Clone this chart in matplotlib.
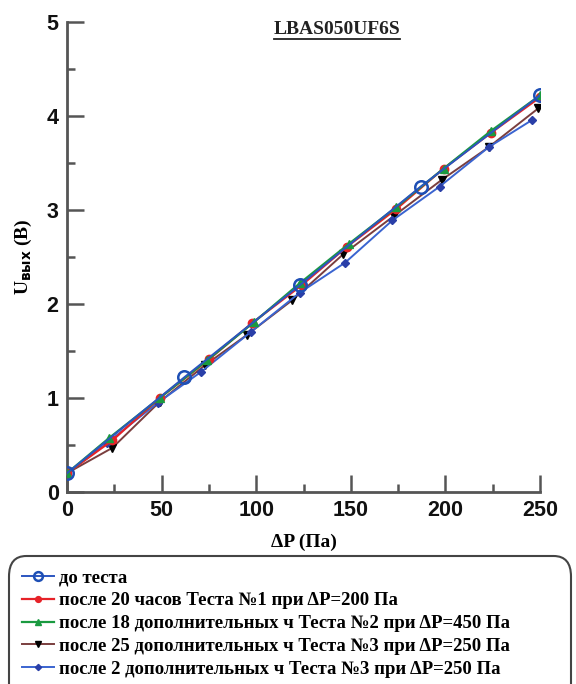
import matplotlib
matplotlib.use("Agg")
import matplotlib.pyplot as plt
from matplotlib.patches import FancyBboxPatch
from matplotlib.lines import Line2D
from matplotlib.ticker import MultipleLocator

# Data
x_before = [0, 62, 123, 187, 250]
y_before = [0.20, 1.22, 2.20, 3.25, 4.22]

x_t1 = [0, 24, 49, 75, 98, 124, 148, 174, 199, 224, 250]
y_t1 = [0.20, 0.55, 1.00, 1.41, 1.80, 2.20, 2.61, 3.01, 3.44, 3.82, 4.20]

x_t2 = [0, 22, 49, 74, 99, 123, 149, 174, 199, 224, 250]
y_t2 = [0.20, 0.57, 1.00, 1.40, 1.81, 2.22, 2.64, 3.03, 3.44, 3.84, 4.22]

x_t3 = [0, 24, 49, 73, 95, 119, 146, 173, 198, 223, 249]
y_t3 = [0.20, 0.47, 0.96, 1.35, 1.67, 2.04, 2.53, 2.94, 3.32, 3.67, 4.08]

x_t4 = [0, 21, 48, 71, 97, 123, 147, 172, 197, 223, 246]
y_t4 = [0.20, 0.52, 0.95, 1.28, 1.70, 2.12, 2.44, 2.89, 3.25, 3.67, 3.96]

labels = [
    "до теста",
    "после 20 часов Теста №1 при ΔP=200 Па",
    "после 18 дополнительных ч Теста №2 при ΔP=450 Па",
    "после 25 дополнительных ч Теста №3 при ΔP=250 Па",
    "после 2 дополнительных ч Теста №3 при ΔP=250 Па",
]
title = "LBAS050UF6S"

W, H = 576, 684
fig = plt.figure(figsize=(W / 100, H / 100), dpi=100)
ax = fig.add_axes([67 / W, (H - 492) / H, (540 - 67) / W, (492 - 22) / H])

h1, = ax.plot(x_before, y_before, color="#2b55c0", lw=1.4, marker="o", ms=9,
              mfc="none", mec="#1e4fb5", mew=1.8, zorder=5)
h2, = ax.plot(x_t1, y_t1, color="#e62228", lw=1.6, marker="o", ms=6,
              mfc="#e62228", mec="#e62228", zorder=3)
h3, = ax.plot(x_t2, y_t2, color="#1a9a40", lw=1.6, marker="^", ms=6,
              mfc="#1a9a40", mec="#1a9a40", zorder=4)
h4, = ax.plot(x_t3, y_t3, color="#7a3e3e", lw=1.4, marker="v", ms=6,
              mfc="black", mec="black", zorder=2)
h5, = ax.plot(x_t4, y_t4, color="#3a64d0", lw=1.4, marker="D", ms=4.5,
              mfc="#2a3fa8", mec="#2a3fa8", zorder=2)

ax.set_xlim(0, 250)
ax.set_ylim(0, 5)
ax.xaxis.set_major_locator(MultipleLocator(50))
ax.xaxis.set_minor_locator(MultipleLocator(25))
ax.yaxis.set_major_locator(MultipleLocator(1))
ax.yaxis.set_minor_locator(MultipleLocator(0.5))
for s in ["top", "right"]:
    ax.spines[s].set_visible(False)
for s in ["left", "bottom"]:
    ax.spines[s].set_color("#555555")
    ax.spines[s].set_linewidth(2)
ax.tick_params(which="major", direction="in", length=12, width=1.8, color="#555555",
               labelsize=15.5, pad=6)
ax.tick_params(which="minor", direction="in", length=6, width=1.8, color="#555555")
for lab in ax.get_xticklabels() + ax.get_yticklabels():
    lab.set_fontweight("bold")
    lab.set_family("Liberation Sans")
    lab.set_color("#111111")
ax.patch.set_visible(False)

ax.set_xlabel("ΔP (Па)", fontsize=14, fontweight="bold", family="Liberation Serif",
              labelpad=9)
ax.set_ylabel(r"U$_{\mathbf{вых}}$ (В)", fontsize=14, fontweight="bold",
              family="Liberation Serif", labelpad=9)

t = fig.text(337 / W, 1 - 29 / H, title, fontsize=14, fontweight="bold",
             family="Liberation Serif", ha="center", va="center", color="#222222")
fig.canvas.draw()
bb = t.get_window_extent()
ly = (bb.y0 - 1) / H
fig.add_artist(Line2D([bb.x0 / W, bb.x1 / W], [ly, ly], color="#222222", lw=1.3,
                      transform=fig.transFigure))

box = FancyBboxPatch((9 / W, -20 / H), (571 - 9) / W, (20 + H - 556) / H,
                     boxstyle="round,pad=0,rounding_size=0.03",
                     transform=fig.transFigure, facecolor="white",
                     edgecolor="#444444", lw=1.5, clip_on=False)
fig.add_artist(box)

leg = fig.legend([h1, h2, h3, h4, h5], labels, loc="upper left",
                 bbox_to_anchor=(14 / W, 1 - 562 / H), frameon=False,
                 prop={"family": "Liberation Serif", "weight": "bold", "size": 13.5},
                 handlelength=1.75, handletextpad=0.25, labelspacing=0.3,
                 borderaxespad=0, markerscale=0.7)

fig.savefig("out.png", dpi=100)
